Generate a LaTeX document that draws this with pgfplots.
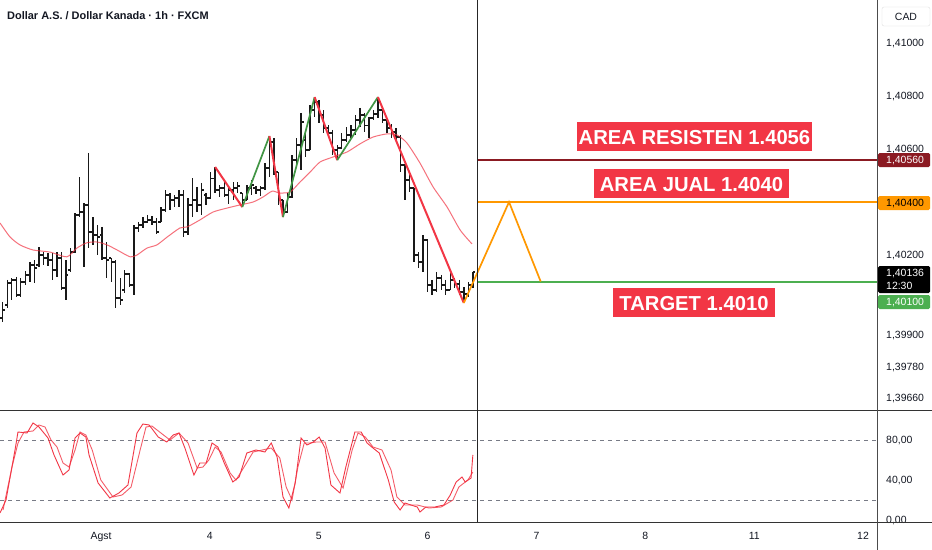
\documentclass[border=0pt]{standalone}
\usepackage{pgfplots}
\pgfplotsset{compat=1.18}
\usepackage{pgfplotstable}
\usepackage{fontspec}
\setmainfont{Liberation Sans}
\definecolor{tvred}{HTML}{F23645}
\definecolor{tvgreen}{HTML}{4CAF50}
\definecolor{tvorange}{HTML}{FF9800}
\definecolor{tvdark}{HTML}{8B1A22}
\definecolor{tvtext}{HTML}{131722}
\definecolor{tvgray}{HTML}{787B86}

\pgfplotstableread{
x o h l c
0 1.39962 1.40023 1.39947 1.39992
1 1.40011 1.40106 1.40000 1.40094
2 1.40094 1.40113 1.40030 1.40106
3 1.40106 1.40117 1.40042 1.40049
4 1.40049 1.40113 1.40042 1.40098
5 1.40098 1.40140 1.40087 1.40125
6 1.40125 1.40174 1.40098 1.40162
7 1.40162 1.40181 1.40094 1.40151
8 1.40162 1.40230 1.40155 1.40200
9 1.40200 1.40211 1.40162 1.40189
10 1.40189 1.40208 1.40159 1.40181
11 1.40181 1.40208 1.40106 1.40143
12 1.40143 1.40211 1.40117 1.40189
13 1.40189 1.40211 1.40068 1.40075
14 1.40075 1.40181 1.40030 1.40125
15 1.40143 1.40226 1.40136 1.40211
16 1.40211 1.40358 1.40208 1.40351
17 1.40351 1.40494 1.40343 1.40362
18 1.40362 1.40396 1.40155 1.40389
19 1.40389 1.40585 1.40226 1.40287
20 1.40287 1.40343 1.40238 1.40275
21 1.40275 1.40313 1.40200 1.40268
22 1.40275 1.40306 1.40181 1.40189
23 1.40189 1.40249 1.40113 1.40181
24 1.40189 1.40189 1.40098 1.40174
25 1.40174 1.40181 1.40000 1.40038
26 1.40038 1.40113 1.40011 1.40030
27 1.40068 1.40143 1.40057 1.40128
28 1.40128 1.40132 1.40079 1.40087
29 1.40087 1.40313 1.40049 1.40302
30 1.40302 1.40325 1.40287 1.40313
31 1.40313 1.40343 1.40302 1.40325
32 1.40325 1.40351 1.40321 1.40332
33 1.40332 1.40347 1.40313 1.40325
34 1.40325 1.40340 1.40279 1.40287
35 1.40325 1.40381 1.40325 1.40370
36 1.40370 1.40445 1.40362 1.40426
37 1.40426 1.40434 1.40370 1.40408
38 1.40408 1.40426 1.40381 1.40415
39 1.40415 1.40445 1.40381 1.40426
40 1.40426 1.40445 1.40268 1.40287
41 1.40287 1.40415 1.40275 1.40389
42 1.40389 1.40490 1.40343 1.40408
43 1.40408 1.40457 1.40362 1.40389
44 1.40389 1.40472 1.40351 1.40445
45 1.40426 1.40434 1.40389 1.40415
46 1.40415 1.40513 1.40415 1.40490
47 1.40490 1.40532 1.40434 1.40445
48 1.40445 1.40464 1.40419 1.40453
49 1.40453 1.40483 1.40419 1.40426
50 1.40426 1.40460 1.40392 1.40445
51 1.40445 1.40475 1.40408 1.40453
52 1.40453 1.40475 1.40434 1.40460
53 1.40434 1.40434 1.40381 1.40408
54 1.40408 1.40464 1.40408 1.40453
55 1.40453 1.40483 1.40426 1.40464
56 1.40453 1.40460 1.40430 1.40445
57 1.40445 1.40460 1.40423 1.40453
58 1.40453 1.40547 1.40445 1.40528
59 1.40528 1.40649 1.40494 1.40626
60 1.40626 1.40641 1.40502 1.40513
61 1.40513 1.40513 1.40389 1.40408
62 1.40408 1.40408 1.40347 1.40362
63 1.40362 1.40434 1.40358 1.40419
64 1.40419 1.40577 1.40415 1.40558
65 1.40558 1.40641 1.40528 1.40615
66 1.40615 1.40736 1.40521 1.40702
67 1.40634 1.40672 1.40570 1.40596
68 1.40596 1.40766 1.40596 1.40747
69 1.40747 1.40796 1.40721 1.40777
70 1.40777 1.40785 1.40698 1.40728
71 1.40728 1.40747 1.40660 1.40679
72 1.40679 1.40690 1.40641 1.40660
73 1.40660 1.40672 1.40577 1.40596
74 1.40596 1.40615 1.40558 1.40604
75 1.40604 1.40660 1.40604 1.40634
76 1.40634 1.40683 1.40626 1.40653
77 1.40653 1.40690 1.40641 1.40672
78 1.40672 1.40728 1.40653 1.40709
79 1.40709 1.40755 1.40683 1.40728
80 1.40728 1.40736 1.40664 1.40690
81 1.40690 1.40721 1.40641 1.40717
82 1.40717 1.40747 1.40709 1.40732
83 1.40732 1.40796 1.40717 1.40747
84 1.40747 1.40762 1.40698 1.40709
85 1.40709 1.40717 1.40660 1.40679
86 1.40679 1.40694 1.40641 1.40664
87 1.40664 1.40679 1.40630 1.40645
88 1.40645 1.40653 1.40513 1.40540
89 1.40540 1.40540 1.40408 1.40483
90 1.40483 1.40513 1.40438 1.40453
91 1.40453 1.40453 1.40174 1.40200
92 1.40200 1.40211 1.40151 1.40174
93 1.40174 1.40275 1.40136 1.40257
94 1.40257 1.40257 1.40060 1.40087
95 1.40087 1.40106 1.40049 1.40068
96 1.40068 1.40136 1.40060 1.40113
97 1.40113 1.40125 1.40068 1.40087
98 1.40087 1.40106 1.40049 1.40068
99 1.40068 1.40132 1.40068 1.40106
100 1.40106 1.40113 1.40075 1.40091
101 1.40091 1.40106 1.40049 1.40060
102 1.40060 1.40079 1.40019 1.40053
103 1.40053 1.40098 1.40042 1.40087
104 1.40087 1.40136 1.40075 1.40136
}\bars

\begin{document}
\begin{tikzpicture}
\useasboundingbox (0,0) rectangle (932bp,-550bp);
\fill[white] (0,0) rectangle (932bp,-550bp);

% ---------------- price panel ----------------
\begin{axis}[at={(0bp,0bp)}, anchor=north west, scale only axis,
  width=877bp, height=410bp,
  xmin=-0.6, xmax=193.4, ymin=1.396151, ymax=1.4116226,
  axis line style={draw=none}, major tick length=0pt,
  xtick=\empty,
  ytick={1.41,1.408,1.406,1.402,1.399,1.3978,1.3966},
  yticklabels={1{,}41000,1{,}40800,1{,}40600,1{,}40200,1{,}39900,1{,}39780,1{,}39660},
  yticklabel pos=right,
  yticklabel style={anchor=base west, inner sep=0pt, xshift=9bp, yshift=-3.8bp,
     font=\fontsize{10.5}{12}\selectfont, text=tvtext},
]
% OHLC bars
\addplot[draw=none, mark=none, forget plot,
  error bars/.cd, y dir=minus, y explicit, error mark=none,
  error bar style={draw=black!90, line width=1.4bp}]
  table[x=x, y=h, y error expr=\thisrow{h}-\thisrow{l}] {\bars};
\addplot[draw=none, mark=none, forget plot,
  error bars/.cd, x dir=minus, x fixed=0.55, error mark=none,
  error bar style={draw=black!90, line width=1.3bp}]
  table[x=x, y=o] {\bars};
\addplot[draw=none, mark=none, forget plot,
  error bars/.cd, x dir=plus, x fixed=0.55, error mark=none,
  error bar style={draw=black!90, line width=1.3bp}]
  table[x=x, y=c] {\bars};
% moving average
\addplot[tvred, opacity=0.7, line width=1bp, smooth, tension=0.4] coordinates {
(-0.6,1.40321) (1.62,1.40268) (3.83,1.40238) (6.70,1.40219) (10.46,1.40211)
(14.2,1.40193) (16.4,1.40226) (18.6,1.40246) (20.9,1.40249) (23.1,1.40238)
(25.3,1.40219) (28.2,1.40193) (29.7,1.40200) (31.9,1.40226) (34.1,1.40238)
(36.4,1.40268) (39.2,1.40302) (40.8,1.40306) (43.6,1.40332) (46.5,1.40362)
(49.6,1.40377) (52.5,1.40389) (55.4,1.40400) (57.6,1.40419) (59.6,1.40441)
(61.3,1.40434) (63.6,1.40438) (65.8,1.40476) (68.0,1.40513) (70.2,1.40551)
(73.1,1.40570) (76.2,1.40589) (79.0,1.40619) (81.9,1.40645) (85.0,1.40657)
(87.2,1.40653) (89.4,1.40623) (92.3,1.40547) (95.2,1.40457) (98.3,1.40381)
(101.2,1.40294) (103.8,1.40242)};
% zigzag
\addplot[tvred, line width=2bp] coordinates {(47,1.40532) (53,1.40381)};
\addplot[tvgreen!85!black, line width=1.7bp] coordinates {(53,1.40381) (59,1.40649)};
\addplot[tvred, line width=2bp] coordinates {(59,1.40649) (62,1.40343)};
\addplot[tvgreen!85!black, line width=1.7bp] coordinates {(62,1.40343) (69,1.40796)};
\addplot[tvred, line width=2bp] coordinates {(69,1.40796) (74,1.40558)};
\addplot[tvgreen!85!black, line width=1.7bp] coordinates {(74,1.40558) (83,1.40796)};
\addplot[tvred, line width=2bp] coordinates {(83,1.40796) (102,1.40019)};
% levels
\addplot[tvdark, line width=2bp] coordinates {(104.93,1.4056) (193.4,1.4056)};
\addplot[tvorange, line width=1.8bp] coordinates {(104.93,1.4040) (193.4,1.4040)};
\addplot[tvgreen, line width=2bp] coordinates {(104.93,1.4010) (193.4,1.4010)};
% projection
\addplot[tvorange, line width=1.7bp] coordinates {(102,1.40019) (112,1.40400) (119,1.40100)};
\end{axis}

% ---------------- stochastic panel ----------------
\begin{axis}[at={(0bp,-410bp)}, anchor=north west, scale only axis,
  width=877bp, height=112bp,
  xmin=-0.6, xmax=193.4, ymin=-2, ymax=110,
  axis line style={draw=none}, major tick length=0pt,
  xtick={21.75,45.83,69.91,93.99,118.07,142.15,166.23,190.31},
  xticklabels={Agst,4,5,6,7,8,11,12},
  xticklabel style={anchor=base, inner sep=0pt, yshift=-17.8bp,
     font=\fontsize{10.5}{12}\selectfont, text=tvtext},
  ytick={0,40,80},
  yticklabels={0{,}00,40{,}00,80{,}00},
  yticklabel pos=right,
  yticklabel style={anchor=base west, inner sep=0pt, xshift=9bp, yshift=-3.8bp,
     font=\fontsize{10.5}{12}\selectfont, text=tvtext},
]
\addplot[tvgray, line width=0.9bp, dash pattern=on 4bp off 4bp] coordinates {(-0.6,80) (193.4,80)};
\addplot[tvgray, line width=0.9bp, dash pattern=on 4bp off 4bp] coordinates {(-0.6,20) (193.4,20)};
% %K
\addplot[tvred, line width=0.9bp] coordinates {
(-0.6,7) (0.73,20) (2.72,70) (3.38,88) (5.38,87) (6.70,97) (8.03,93) (10.02,82)
(11.35,65) (13.34,45) (14.67,50) (16.0,82) (17.1,87) (18.4,83) (19.1,65) (21.1,37)
(23.7,22) (25.7,27) (27.7,35) (29.7,87) (31.0,96) (32.4,95) (34.4,83) (36.3,78)
(37.7,85) (39.0,87) (40.3,72) (42.3,45) (43.6,57) (45.0,57) (46.3,77) (47.6,73)
(49.0,57) (50.9,38) (52.3,43) (54.0,67) (56.0,70) (58.0,68) (59.4,77) (60.7,63)
(62.0,23) (63.3,12) (64.7,37) (66.0,82) (67.3,75) (68.7,78) (70.0,83) (71.3,72)
(72.6,35) (74.6,27) (75.9,53) (77.9,88) (79.3,88) (80.6,77) (81.9,72) (83.3,67)
(85.3,40) (86.6,18) (87.9,10) (89.0,17) (90.3,15) (91.7,13) (92.3,8) (93.6,13)
(95.6,13) (97.6,15) (99.0,25) (100.3,38) (101.6,43) (102.3,38) (103.6,42) (104.0,65)};
% %D
\addplot[tvred, opacity=0.8, line width=0.9bp] coordinates {
(0.07,10) (2.06,53) (3.38,77) (4.71,88) (6.70,89) (8.03,95) (9.36,93) (10.69,80)
(12.01,73) (13.34,57) (14.67,53) (16.0,70) (17.1,88) (18.4,85) (19.8,70) (21.7,40)
(24.4,23) (26.4,25) (28.4,33) (30.4,70) (31.7,93) (33.0,94) (35.0,87) (37.0,80)
(39.0,87) (41.0,77) (43.0,52) (44.3,53) (45.6,60) (47.0,73) (48.3,68) (50.3,47)
(51.6,40) (53.4,53) (55.4,68) (57.4,70) (59.4,72) (61.3,62) (62.7,33) (64.0,20)
(65.3,53) (66.7,77) (68.0,77) (69.3,78) (71.3,78) (73.3,47) (75.3,32) (77.3,70)
(78.6,87) (80.2,83) (81.9,73) (83.9,70) (85.9,50) (87.2,23) (89.0,15) (91.7,15)
(94.3,12) (97.0,13) (99.6,20) (100.9,33) (102.9,40) (104.0,48)};
\end{axis}

% ---------------- decorations (pixel coordinates) ----------------
\begin{scope}[x=1bp, y=-1bp]
\draw[black!80, line width=1bp] (0,410) -- (932,410);
\draw[black!80, line width=1bp] (0,522) -- (932,522);
\draw[black!70, line width=1bp] (877,0) -- (877,550);
\draw[black!85, line width=0.9bp] (477,0) -- (477,522);

\node[anchor=base west, inner sep=0pt, text=tvtext, font=\fontsize{11}{13}\selectfont\bfseries]
  at (7,19) {Dollar A.S. / Dollar Kanada · 1h · FXCM};

\draw[gray!25, fill=white, rounded corners=2bp] (882,7) rectangle (930,26);
\node[anchor=base, inner sep=0pt, text=tvtext, font=\fontsize{10.5}{12}\selectfont] at (906,20.3) {CAD};

\fill[tvdark, rounded corners=1.5bp] (878,153) rectangle (930,167);
\node[anchor=base west, inner sep=0pt, text=white, font=\fontsize{10.5}{12}\selectfont] at (886,163.8) {1,40560};
\fill[tvorange, rounded corners=1.5bp] (878,196) rectangle (930,210);
\node[anchor=base west, inner sep=0pt, text=black, font=\fontsize{10.5}{12}\selectfont] at (886,206.8) {1,40400};
\fill[black, rounded corners=1.5bp] (878,266) rectangle (930,293);
\node[anchor=base west, inner sep=0pt, text=white, font=\fontsize{10.5}{12}\selectfont] at (886,276.8) {1,40136};
\node[anchor=base west, inner sep=0pt, text=white, font=\fontsize{10.5}{12}\selectfont] at (886,289.8) {12:30};
\fill[tvgreen, rounded corners=1.5bp] (878,295) rectangle (930,309);
\node[anchor=base west, inner sep=0pt, text=white, font=\fontsize{10.5}{12}\selectfont] at (886,305.8) {1,40100};

\fill[tvred] (577,122) rectangle (812,151);
\node[anchor=base, inner sep=0pt, text=white, font=\fontsize{20.3}{24}\selectfont\bfseries] at (694.5,144) {AREA RESISTEN 1.4056};
\fill[tvred] (594,169) rectangle (789,198);
\node[anchor=base, inner sep=0pt, text=white, font=\fontsize{20.3}{24}\selectfont\bfseries] at (691.5,191) {AREA JUAL 1.4040};
\fill[tvred] (613,288) rectangle (775,317);
\node[anchor=base, inner sep=0pt, text=white, font=\fontsize{20.3}{24}\selectfont\bfseries] at (694,310) {TARGET 1.4010};
\end{scope}
\end{tikzpicture}
\end{document}
